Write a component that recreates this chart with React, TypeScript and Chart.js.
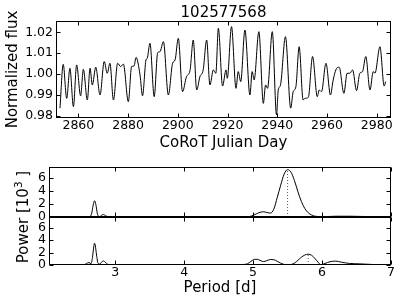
import React, { useEffect, useRef } from "react";
import { Chart, registerables } from "chart.js";
Chart.register(...registerables);
Chart.defaults.font.family = '"DejaVu Sans"';
Chart.defaults.color = "#000";

const chartTitle = "102577568";
const lcXTitle = "CoRoT Julian Day";
const lcYTitle = "Normalized flux";
const pgXTitle = "Period [d]";
const pgYTitleParts = ["Power [10", "3", " ]"];

const lcDays = [
  2852.6, 2853.9, 2855.3, 2856.6, 2858.0, 2859.3, 2860.9, 2862.0, 2863.6, 2864.7,
  2865.6, 2867.0, 2868.7, 2870.4, 2871.6, 2872.7, 2874.1, 2875.8, 2877.0, 2878.1,
  2880.1, 2881.4, 2882.4, 2883.2, 2884.8, 2885.8, 2887.2, 2887.7, 2888.8, 2890.5,
  2891.9, 2892.8, 2894.2, 2896.2, 2897.9, 2898.9, 2900.2, 2901.9, 2903.5, 2904.9,
  2906.2, 2907.6, 2908.9, 2910.2, 2911.6, 2912.9, 2914.3, 2915.3, 2916.3, 2918.0,
  2919.4, 2919.9, 2921.6, 2923.4, 2924.3, 2925.3, 2927.0, 2929.0, 2929.9, 2930.7,
  2932.6, 2934.4, 2935.3, 2936.1, 2938.0, 2939.7, 2940.4, 2941.3, 2943.3, 2945.4,
  2946.4, 2947.5, 2948.8, 2950.4, 2951.1, 2952.5, 2954.2, 2956.1, 2956.9, 2957.8,
  2959.6, 2961.4, 2962.5, 2963.9, 2964.9, 2966.8, 2968.1, 2969.2, 2970.3, 2971.9,
  2973.2, 2974.3, 2975.6, 2977.3, 2978.6, 2979.3, 2981.3, 2983.0, 2983.6,
];
const lcFlux = [
  0.9837, 1.0047, 0.9884, 1.0028, 0.9845, 1.0044, 0.9896, 1.0023, 0.9876, 1.0028,
  0.9948, 1.0033, 0.99, 1.006, 1.0004, 1.0052, 0.9876, 1.0052, 1.0036, 1.0048,
  0.9868, 1.0036, 1.0039, 1.008, 0.9996, 0.9896, 1.0068, 1.0076, 1.0147, 0.9892,
  1.0103, 1.0107, 1.0155, 0.99, 1.0052, 1.0068, 1.0171, 0.9916, 0.9988, 1.0017,
  1.0163, 0.9924, 0.9988, 1.002, 1.0163, 0.9948, 1.002, 1.0004, 1.0219, 0.9943,
  1.002, 0.998, 1.0227, 0.9932, 1.0012, 0.9964, 1.0211, 0.99, 1.0012, 0.9972,
  1.0203, 0.986, 0.9948, 0.9932, 1.0203, 0.9805, 0.9924, 0.9948, 1.0179, 0.9837,
  0.9916, 0.994, 1.0131, 0.9876, 0.9884, 0.9889, 1.0084, 0.9892, 0.9924, 0.9916,
  1.0052, 0.99, 0.9972, 1.0028, 1.0033, 0.9908, 1.0004, 1.0004, 1.002, 0.9921,
  1.0004, 1.0012, 1.0084, 0.9924, 1.0012, 1.0004, 1.0131, 0.9943, 0.9964,
];
const lcXTicks = [2860, 2880, 2900, 2920, 2940, 2960, 2980];
const lcYTicks = [0.98, 0.99, 1.0, 1.01, 1.02];

const pgTopPeriods = [
  2.5, 2.55, 2.6, 2.63, 2.66, 2.68, 2.7, 2.72, 2.74, 2.76, 2.78, 2.8, 2.83, 2.86, 2.9,
  3.0, 3.5, 4.0, 4.5, 4.9, 4.95, 5.0, 5.05, 5.1, 5.15, 5.2, 5.25, 5.3, 5.35, 5.4,
  5.45, 5.5, 5.55, 5.6, 5.65, 5.7, 5.75, 5.8, 5.85, 5.9, 6.0, 6.1, 6.2, 6.4, 6.6, 6.85,
];
const pgTopPower = [
  0.0, 0.02, 0.08, 0.05, 0.6, 1.8, 2.5, 1.9, 0.6, 0.1, 0.05, 0.25, 0.38, 0.2, 0.03,
  0.02, 0.01, 0.01, 0.02, 0.03, 0.08, 0.25, 0.5, 0.72, 0.8, 0.7, 0.6, 1.2, 3.0, 4.9,
  6.6, 7.3, 6.9, 5.6, 3.9, 2.4, 1.3, 0.65, 0.3, 0.12, 0.05, 0.08, 0.12, 0.12, 0.08, 0.02,
];
const pgBotPeriods = [
  2.5, 2.55, 2.58, 2.62, 2.65, 2.67, 2.69, 2.7, 2.71, 2.73, 2.75, 2.78, 2.8, 2.83, 2.86,
  2.9, 3.0, 3.5, 4.0, 4.5, 4.85, 4.92, 4.97, 5.02, 5.06, 5.1, 5.15, 5.2, 5.25, 5.3,
  5.35, 5.4, 5.45, 5.5, 5.55, 5.6, 5.65, 5.7, 5.75, 5.8, 5.85, 5.9, 5.95, 5.98, 6.02,
  6.08, 6.15, 6.2, 6.28, 6.4, 6.55, 6.7, 6.85,
];
const pgBotPower = [
  0.0, 0.05, 0.2, 0.4, 0.2, 1.2, 3.0, 3.5, 3.2, 1.6, 0.3, 0.15, 0.45, 0.65, 0.4,
  0.08, 0.03, 0.02, 0.02, 0.04, 0.08, 0.2, 0.6, 0.9, 0.92, 0.75, 0.55, 0.7, 0.88, 0.85,
  0.6, 0.3, 0.1, 0.05, 0.08, 0.3, 0.75, 1.25, 1.6, 1.73, 1.55, 1.0, 0.35, 0.05, 0.15,
  0.4, 0.6, 0.62, 0.45, 0.25, 0.18, 0.1, 0.02,
];
const pgTopPeakPeriod = 5.5;
const pgTopPeakPower = 7.3;
const pgBotPeakPeriod = 5.8;
const pgBotPeakPower = 1.73;
const pgXTicks = [3, 4, 5, 6, 7];
const pgYTicks = [0, 2, 4, 6];

const W = 407;
const H = 305;
const TICK = 12.5;
const LABEL = 15;

const frameTicks = {
  id: "frameTicks",
  afterDatasetsDraw(chart: any) {
    const { ctx, chartArea: a } = chart;
    const xs = chart.scales.x;
    const ys = chart.scales.y;
    ctx.save();
    ctx.strokeStyle = "#000";
    ctx.lineWidth = 1;
    const L = Math.round(a.left) + 0.5;
    const R = Math.round(a.right) - 0.5;
    const T = Math.round(a.top) + 0.5;
    const B = Math.round(a.bottom) - 0.5;
    ctx.strokeRect(L, T, R - L, B - T);
    const len = 4;
    ctx.beginPath();
    for (const t of xs.ticks) {
      const p = Math.round(xs.getPixelForValue(t.value)) + 0.5;
      ctx.moveTo(p, B);
      ctx.lineTo(p, B - len);
      ctx.moveTo(p, T);
      ctx.lineTo(p, T + len);
    }
    for (const t of ys.ticks) {
      const p = Math.round(ys.getPixelForValue(t.value)) + 0.5;
      ctx.moveTo(L, p);
      ctx.lineTo(L + len, p);
      ctx.moveTo(R, p);
      ctx.lineTo(R - len, p);
    }
    ctx.stroke();
    ctx.restore();
  },
};

const titlePlugin = {
  id: "titleText",
  afterDraw(chart: any) {
    const { ctx, chartArea: a } = chart;
    ctx.save();
    ctx.font = `${LABEL}px "DejaVu Sans"`;
    ctx.fillStyle = "#000";
    ctx.textAlign = "center";
    ctx.textBaseline = "alphabetic";
    ctx.fillText(chartTitle, (a.left + a.right) / 2, a.top - 4.3);
    ctx.restore();
  },
};

const powerLabelPlugin = {
  id: "powerLabel",
  afterDraw(chart: any) {
    const { ctx, chartArea: a } = chart;
    ctx.save();
    ctx.translate(27.5, a.top);
    ctx.rotate(-Math.PI / 2);
    const f1 = `${LABEL}px "DejaVu Sans"`;
    const f2 = `10.5px "DejaVu Sans"`;
    ctx.font = f1;
    const w1 = ctx.measureText(pgYTitleParts[0]).width;
    const w3 = ctx.measureText(pgYTitleParts[2]).width;
    ctx.font = f2;
    const w2 = ctx.measureText(pgYTitleParts[1]).width;
    let u = -(w1 + w2 + w3) / 2;
    ctx.fillStyle = "#000";
    ctx.textAlign = "left";
    ctx.textBaseline = "alphabetic";
    ctx.font = f1;
    ctx.fillText(pgYTitleParts[0], u, 0);
    u += w1;
    ctx.font = f2;
    ctx.fillText(pgYTitleParts[1], u, -6);
    u += w2;
    ctx.font = f1;
    ctx.fillText(pgYTitleParts[2], u, 0);
    ctx.restore();
  },
};

function xScale(min: number, max: number, ticks: number[], show: boolean, title: string, height: number) {
  return {
    type: "linear",
    position: "bottom",
    min,
    max,
    grid: { display: false, drawTicks: false },
    border: { display: false },
    afterBuildTicks: (s: any) => {
      s.ticks = ticks.map((v) => ({ value: v }));
    },
    afterFit: (s: any) => {
      s.height = height;
    },
    ticks: {
      display: show,
      autoSkip: false,
      maxRotation: 0,
      minRotation: 0,
      padding: 0,
      color: "#000",
      font: { size: TICK },
      callback: (v: any) => String(v),
    },
    title: {
      display: !!title,
      text: title,
      color: "#000",
      font: { size: LABEL },
      padding: { top: 0, bottom: 4 },
    },
  };
}

function yScale(min: number, max: number, ticks: number[], fmt: (v: number) => string, width: number, title: string) {
  return {
    type: "linear",
    position: "left",
    min,
    max,
    grid: { display: false, drawTicks: false },
    border: { display: false },
    afterBuildTicks: (s: any) => {
      s.ticks = ticks.map((v) => ({ value: v }));
    },
    afterFit: (s: any) => {
      s.width = width;
    },
    ticks: {
      autoSkip: false,
      padding: 3,
      color: "#000",
      font: { size: TICK },
      callback: (v: any) => fmt(Number(v)),
    },
    title: {
      display: !!title,
      text: title,
      color: "#000",
      font: { size: LABEL },
      padding: { top: 4, bottom: 0 },
    },
  };
}

function lineDs(xs: number[], ys: number[], extra: any = {}) {
  return {
    data: xs.map((x, i) => ({ x, y: ys[i] })),
    borderColor: "#000",
    borderWidth: 1,
    pointRadius: 0,
    fill: false,
    cubicInterpolationMode: "monotone",
    ...extra,
  };
}

function dotted(px: number, py: number) {
  return {
    data: [
      { x: px, y: 0 },
      { x: px, y: py },
    ],
    borderColor: "rgba(0,0,0,0.65)",
    borderWidth: 1,
    borderDash: [1, 2],
    pointRadius: 0,
    fill: false,
  };
}

function baseOptions(padding: any, scales: any) {
  return {
    responsive: false,
    animation: false,
    devicePixelRatio: 1,
    layout: { padding },
    plugins: { legend: { display: false }, tooltip: { enabled: false }, title: { display: false } },
    events: [],
    scales,
  };
}

export default function App() {
  const aRef = useRef<HTMLCanvasElement>(null);
  const bRef = useRef<HTMLCanvasElement>(null);
  const cRef = useRef<HTMLCanvasElement>(null);

  useEffect(() => {
    const charts: Chart[] = [];
    charts.push(
      new Chart(aRef.current as HTMLCanvasElement, {
        type: "line",
        data: { datasets: [lineDs(lcDays, lcFlux)] } as any,
        options: baseOptions(
          { left: 0, right: W - 391, top: 21, bottom: H - 118 - 38 },
          {
            x: xScale(2851.0, 2985.75, lcXTicks, true, lcXTitle, 38),
            y: yScale(0.979, 1.0254, lcYTicks, (v) => v.toFixed(2), 56, lcYTitle),
          }
        ) as any,
        plugins: [frameTicks, titlePlugin],
      })
    );
    charts.push(
      new Chart(bRef.current as HTMLCanvasElement, {
        type: "line",
        data: {
          datasets: [lineDs(pgTopPeriods, pgTopPower), dotted(pgTopPeakPeriod, pgTopPeakPower)],
        } as any,
        options: baseOptions(
          { left: 0, right: W - 391, top: 167, bottom: H - 217 },
          {
            x: xScale(2.04, 7.0, pgXTicks, false, "", 0),
            y: yScale(0, 7.7, pgYTicks, (v) => String(v), 49, ""),
          }
        ) as any,
        plugins: [frameTicks],
      })
    );
    charts.push(
      new Chart(cRef.current as HTMLCanvasElement, {
        type: "line",
        data: {
          datasets: [lineDs(pgBotPeriods, pgBotPower), dotted(pgBotPeakPeriod, pgBotPeakPower)],
        } as any,
        options: baseOptions(
          { left: 0, right: W - 391, top: 217, bottom: H - 265 - 36 },
          {
            x: xScale(2.04, 7.0, pgXTicks, true, pgXTitle, 36),
            y: yScale(0, 7.7, pgYTicks, (v) => String(v), 49, ""),
          }
        ) as any,
        plugins: [frameTicks, powerLabelPlugin],
      })
    );
    return () => {
      charts.forEach((c) => c.destroy());
    };
  }, []);

  const cs: React.CSSProperties = { position: "absolute", left: 0, top: 0, width: W, height: H };
  return (
    <div style={{ position: "fixed", left: 0, top: 0, width: W, height: H, background: "#fff" }}>
      <canvas ref={aRef} width={W} height={H} style={cs} />
      <canvas ref={bRef} width={W} height={H} style={cs} />
      <canvas ref={cRef} width={W} height={H} style={cs} />
    </div>
  );
}
